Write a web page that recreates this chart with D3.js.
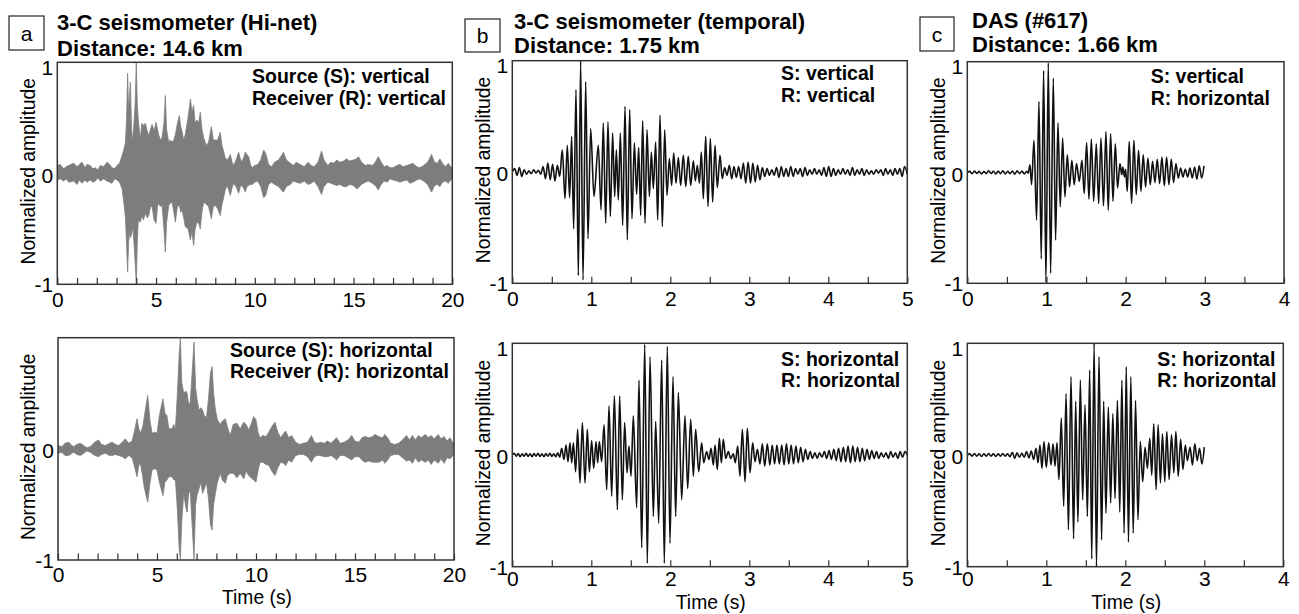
<!DOCTYPE html>
<html><head><meta charset="utf-8">
<script src="https://cdn.jsdelivr.net/npm/d3@7"></script>
<style>body{margin:0;background:#fff}svg{display:block}text{font-family:"Liberation Sans",Arial,Helvetica,sans-serif;fill:#000}</style>
</head><body><svg id="chart" width="1299" height="614"></svg>
<script>
// ---------------- DATA ----------------
const yTicks = [-1, 0, 1];
const hinetTicks = [0, 5, 10, 15, 20];
const hinetMinor = [0,1,2,3,4,5,6,7,8,9,10,11,12,13,14,15,16,17,18,19,20];
const tempTicks = [0, 1, 2, 3, 4, 5];
const tempMinor = [0,0.5,1,1.5,2,2.5,3,3.5,4,4.5,5];
const dasTicks = [0, 1, 2, 3, 4];
const dasMinor = [0,0.5,1,1.5,2,2.5,3,3.5,4];

// Hi-net envelopes: [time, upper, lower]
const hinetVertical = [
[0.00,0.07,-0.06],[0.15,0.08,-0.05],[0.32,0.04,-0.07],[0.45,0.06,-0.05],[0.58,0.07,-0.08],[0.83,0.09,-0.07],[1.00,0.06,-0.10],[1.12,0.08,-0.06],[1.25,0.10,-0.09],[1.40,0.05,-0.06],[1.50,0.08,-0.08],[1.67,0.07,-0.06],[1.80,0.04,-0.08],[1.93,0.05,-0.07],[2.05,0.03,-0.04],[2.18,0.07,-0.07],[2.35,0.06,-0.05],[2.52,0.10,-0.07],[2.65,0.08,-0.08],[2.77,0.05,-0.09],[2.90,0.04,-0.05],[3.02,0.07,-0.06],[3.15,0.09,-0.08],[3.28,0.16,-0.14],[3.38,0.22,-0.28],[3.45,0.28,-0.40],[3.51,0.50,-0.65],[3.56,0.90,-0.89],[3.61,0.55,-0.62],[3.66,0.72,-0.52],[3.70,0.82,-0.58],[3.76,0.40,-0.55],[3.82,0.28,-0.48],[3.88,0.45,-0.62],[3.94,0.62,-0.80],[4.00,1.00,-1.00],[4.05,0.62,-0.62],[4.10,0.48,-0.42],[4.20,0.31,-0.44],[4.28,0.45,-0.38],[4.36,0.43,-0.42],[4.46,0.45,-0.36],[4.55,0.38,-0.40],[4.63,0.34,-0.38],[4.72,0.40,-0.30],[4.80,0.44,-0.30],[4.90,0.38,-0.42],[5.00,0.46,-0.45],[5.07,0.40,-0.30],[5.13,0.35,-0.27],[5.22,0.30,-0.30],[5.30,0.32,-0.28],[5.40,0.45,-0.50],[5.47,0.70,-0.71],[5.53,0.40,-0.45],[5.64,0.28,-0.29],[5.72,0.30,-0.27],[5.81,0.28,-0.26],[5.90,0.30,-0.35],[5.98,0.35,-0.44],[6.08,0.45,-0.30],[6.18,0.52,-0.29],[6.25,0.42,-0.35],[6.31,0.38,-0.33],[6.40,0.30,-0.40],[6.48,0.35,-0.48],[6.62,0.50,-0.50],[6.74,0.67,-0.60],[6.82,0.55,-0.52],[6.90,0.61,-0.65],[6.98,0.45,-0.50],[7.07,0.48,-0.44],[7.16,0.45,-0.45],[7.24,0.55,-0.50],[7.32,0.40,-0.35],[7.41,0.32,-0.26],[7.55,0.25,-0.28],[7.66,0.28,-0.30],[7.80,0.42,-0.41],[7.90,0.30,-0.30],[8.00,0.30,-0.29],[8.12,0.30,-0.32],[8.25,0.37,-0.38],[8.34,0.25,-0.28],[8.42,0.20,-0.22],[8.50,0.14,-0.15],[8.59,0.12,-0.11],[8.68,0.14,-0.15],[8.76,0.17,-0.20],[8.85,0.10,-0.13],[8.93,0.07,-0.09],[9.05,0.12,-0.12],[9.18,0.19,-0.18],[9.27,0.13,-0.12],[9.35,0.10,-0.11],[9.45,0.15,-0.14],[9.52,0.19,-0.17],[9.60,0.17,-0.12],[9.69,0.15,-0.11],[9.78,0.08,-0.10],[9.86,0.05,-0.10],[10.00,0.07,-0.08],[10.15,0.08,-0.07],[10.30,0.12,-0.12],[10.45,0.21,-0.22],[10.55,0.18,-0.20],[10.70,0.08,-0.10],[10.85,0.06,-0.08],[11.00,0.10,-0.10],[11.20,0.12,-0.12],[11.35,0.16,-0.15],[11.45,0.19,-0.17],[11.60,0.12,-0.12],[11.80,0.09,-0.10],[11.95,0.07,-0.07],[12.10,0.10,-0.08],[12.30,0.08,-0.09],[12.50,0.06,-0.07],[12.70,0.10,-0.10],[12.85,0.07,-0.09],[13.00,0.06,-0.07],[13.20,0.10,-0.12],[13.38,0.20,-0.19],[13.50,0.12,-0.12],[13.70,0.07,-0.08],[13.85,0.10,-0.09],[14.00,0.09,-0.10],[14.15,0.12,-0.11],[14.30,0.10,-0.10],[14.50,0.11,-0.12],[14.65,0.13,-0.12],[14.80,0.11,-0.10],[15.00,0.12,-0.11],[15.15,0.13,-0.14],[15.25,0.15,-0.13],[15.40,0.10,-0.10],[15.60,0.07,-0.08],[15.75,0.08,-0.07],[15.95,0.07,-0.09],[16.10,0.10,-0.11],[16.25,0.15,-0.15],[16.40,0.10,-0.10],[16.55,0.06,-0.07],[16.70,0.07,-0.08],[16.85,0.05,-0.05],[17.00,0.05,-0.06],[17.20,0.07,-0.07],[17.35,0.08,-0.08],[17.50,0.06,-0.07],[17.70,0.07,-0.06],[17.85,0.08,-0.09],[18.00,0.09,-0.08],[18.20,0.06,-0.06],[18.35,0.05,-0.05],[18.55,0.07,-0.07],[18.75,0.10,-0.10],[18.95,0.17,-0.17],[19.10,0.10,-0.11],[19.25,0.09,-0.10],[19.37,0.13,-0.12],[19.50,0.09,-0.08],[19.65,0.06,-0.07],[19.80,0.09,-0.09],[19.92,0.06,-0.06],[20.00,0.05,-0.05]
];
const hinetHorizontal = [
[0.00,0.03,-0.04],[0.20,0.02,-0.03],[0.35,0.05,-0.06],[0.54,0.06,-0.06],[0.70,0.03,-0.04],[0.79,0.02,-0.03],[0.95,0.04,-0.05],[1.13,0.05,-0.06],[1.30,0.03,-0.04],[1.45,0.01,-0.02],[1.63,0.02,-0.03],[1.85,0.06,-0.06],[2.05,0.08,-0.07],[2.20,0.04,-0.05],[2.40,0.03,-0.04],[2.60,0.05,-0.06],[2.73,0.06,-0.06],[2.90,0.04,-0.05],[3.06,0.03,-0.06],[3.25,0.06,-0.07],[3.40,0.09,-0.09],[3.57,0.05,-0.06],[3.74,0.07,-0.08],[3.85,0.15,-0.15],[3.99,0.27,-0.25],[4.08,0.18,-0.15],[4.16,0.14,-0.13],[4.28,0.20,-0.25],[4.36,0.29,-0.35],[4.53,0.48,-0.48],[4.65,0.25,-0.30],[4.75,0.14,-0.19],[4.88,0.15,-0.18],[5.00,0.14,-0.19],[5.12,0.30,-0.30],[5.30,0.45,-0.42],[5.40,0.32,-0.30],[5.50,0.30,-0.28],[5.60,0.18,-0.25],[5.76,0.18,-0.25],[5.85,0.22,-0.28],[5.93,0.17,-0.28],[6.03,0.50,-0.55],[6.12,0.85,-0.90],[6.18,0.99,-0.99],[6.25,0.60,-0.65],[6.35,0.50,-0.40],[6.45,0.52,-0.52],[6.52,0.50,-0.57],[6.60,0.40,-0.40],[6.68,0.42,-0.38],[6.78,0.70,-0.70],[6.87,0.96,-0.99],[6.95,0.55,-0.50],[7.02,0.45,-0.42],[7.12,0.35,-0.36],[7.22,0.37,-0.30],[7.30,0.35,-0.40],[7.39,0.30,-0.36],[7.50,0.28,-0.30],[7.60,0.45,-0.45],[7.70,0.68,-0.68],[7.78,0.74,-0.73],[7.86,0.50,-0.50],[7.95,0.35,-0.40],[8.05,0.26,-0.30],[8.20,0.22,-0.22],[8.30,0.25,-0.28],[8.45,0.27,-0.31],[8.55,0.20,-0.24],[8.70,0.12,-0.22],[8.85,0.22,-0.22],[9.04,0.23,-0.26],[9.20,0.18,-0.22],[9.38,0.24,-0.27],[9.50,0.22,-0.20],[9.63,0.17,-0.24],[9.75,0.22,-0.26],[9.88,0.29,-0.28],[10.00,0.26,-0.30],[10.10,0.15,-0.20],[10.20,0.10,-0.12],[10.35,0.12,-0.12],[10.50,0.11,-0.14],[10.65,0.15,-0.15],[10.80,0.20,-0.20],[10.96,0.24,-0.24],[11.10,0.15,-0.17],[11.25,0.10,-0.12],[11.40,0.14,-0.13],[11.50,0.16,-0.15],[11.65,0.10,-0.10],[11.80,0.12,-0.12],[12.00,0.06,-0.06],[12.20,0.04,-0.05],[12.40,0.05,-0.05],[12.60,0.06,-0.07],[12.80,0.12,-0.12],[12.95,0.06,-0.07],[13.10,0.05,-0.06],[13.25,0.06,-0.06],[13.45,0.05,-0.07],[13.60,0.07,-0.07],[13.80,0.05,-0.06],[13.95,0.08,-0.08],[14.07,0.10,-0.10],[14.25,0.05,-0.06],[14.45,0.06,-0.06],[14.65,0.08,-0.08],[14.83,0.12,-0.10],[15.00,0.07,-0.07],[15.20,0.06,-0.07],[15.35,0.10,-0.10],[15.50,0.11,-0.12],[15.70,0.10,-0.11],[15.90,0.11,-0.12],[16.00,0.13,-0.12],[16.20,0.11,-0.12],[16.40,0.10,-0.10],[16.50,0.13,-0.13],[16.65,0.10,-0.10],[16.80,0.05,-0.06],[17.00,0.04,-0.05],[17.20,0.05,-0.05],[17.40,0.08,-0.08],[17.60,0.12,-0.11],[17.75,0.08,-0.10],[17.90,0.12,-0.13],[18.05,0.08,-0.08],[18.20,0.12,-0.12],[18.35,0.10,-0.10],[18.55,0.13,-0.12],[18.70,0.10,-0.10],[18.85,0.12,-0.14],[19.00,0.09,-0.10],[19.20,0.13,-0.13],[19.35,0.09,-0.09],[19.50,0.11,-0.13],[19.65,0.07,-0.08],[19.80,0.10,-0.09],[20.00,0.04,-0.05]
];

// Temporal seismometer: successive extrema [time, amplitude]
const tempVertical = [
[0,0],[0.03,0.03],[0.06,-0.03],[0.09,0.04],[0.12,-0.04],[0.15,0.02],[0.18,-0.02],[0.21,0.01],[0.24,-0.015],[0.27,0.02],[0.30,-0.01],[0.33,0.015],[0.36,-0.02],[0.39,0.05],[0.42,-0.06],[0.45,0.08],[0.48,-0.07],[0.51,0.07],[0.54,-0.08],[0.57,0.06],[0.60,-0.04],
[0.633,0.20],[0.667,-0.24],[0.696,0.24],[0.726,-0.23],[0.751,0.32],[0.777,-0.51],[0.806,0.74],[0.836,-0.93],[0.865,1.0],[0.895,-0.97],[0.929,0.81],[0.958,-0.60],[0.992,0.39],[1.034,-0.22],
[1.089,0.24],[1.123,-0.34],[1.152,0.44],[1.182,-0.46],[1.211,0.45],[1.241,-0.40],[1.270,0.35],[1.296,-0.22],[1.317,0.20],[1.342,-0.25],[1.368,0.35],[1.397,-0.48],[1.427,0.59],[1.456,-0.61],[1.486,0.56],[1.515,-0.42],[1.545,0.26],[1.574,-0.20],[1.600,0.22],[1.625,-0.39],[1.650,0.46],[1.680,-0.46],[1.705,0.38],[1.735,-0.22],[1.760,0.18],[1.785,-0.15],[1.815,0.27],[1.840,-0.43],[1.870,0.51],[1.899,-0.49],[1.929,0.38],[1.958,-0.21],[1.988,0.12],[2.017,-0.12],[2.043,0.17],[2.072,-0.10],[2.102,0.13],[2.131,-0.12],[2.165,0.15],[2.195,-0.13],[2.228,0.14],[2.258,-0.12],[2.292,0.10],[2.317,-0.08],[2.342,0.06],[2.368,-0.10],[2.393,0.18],[2.418,-0.24],[2.448,0.32],[2.477,-0.31],[2.507,0.30],[2.536,-0.27],[2.566,0.24],[2.595,-0.14],[2.629,0.15],[2.658,-0.06],[2.688,0.04],[2.718,-0.03],[2.747,0.06],[2.777,-0.06],[2.806,0.05],[2.836,-0.05],[2.865,0.05],
[2.895,-0.06],[2.925,0.08],[2.955,-0.10],[2.985,0.09],[3.015,-0.10],[3.045,0.08],[3.075,-0.09],[3.105,0.06],[3.135,-0.07],[3.165,0.04],[3.195,-0.04],[3.225,0.03],[3.255,-0.03],[3.285,0.02],[3.315,-0.03],[3.345,0.04],[3.375,-0.05],[3.405,0.05],[3.435,-0.04],[3.465,0.03],[3.495,-0.04],[3.525,0.05],[3.555,-0.04],[3.585,0.03],[3.615,-0.02],[3.645,0.03],[3.675,-0.04],[3.705,0.04],[3.735,-0.03],[3.765,0.02],[3.795,-0.02],[3.825,0.03],[3.855,-0.02],[3.885,0.02],[3.915,-0.03],[3.945,0.04],[3.975,-0.04],[4.005,0.05],[4.035,-0.04],[4.065,0.03],[4.095,-0.03],[4.125,0.02],[4.155,-0.02],[4.185,0.03],[4.215,-0.02],[4.245,0.02],[4.275,-0.03],[4.305,0.04],[4.335,-0.03],[4.365,0.02],[4.395,-0.02],[4.425,0.03],[4.455,-0.03],[4.485,0.02],[4.515,-0.02],[4.545,0.01],[4.575,-0.02],[4.605,0.02],[4.635,-0.01],[4.665,0.02],[4.695,-0.03],[4.725,0.03],[4.755,-0.02],[4.785,0.02],[4.815,-0.03],[4.845,0.03],[4.875,-0.02],[4.905,0.03],[4.935,-0.04],[4.965,0.05],[5.0,-0.02]
];
const tempHorizontal = [
[0,0],[0.025,0.015],[0.05,-0.01],[0.075,0.012],[0.1,-0.015],[0.125,0.01],[0.15,-0.01],[0.175,0.015],[0.2,-0.012],[0.225,0.01],[0.25,-0.015],[0.275,0.012],[0.3,-0.01],[0.325,0.015],[0.35,-0.012],[0.375,0.01],[0.4,-0.015],[0.425,0.012],[0.45,-0.01],[0.475,0.015],[0.5,-0.012],[0.525,0.01],[0.55,-0.015],[0.575,0.02],[0.6,-0.02],
[0.625,0.06],[0.654,-0.04],[0.680,0.09],[0.705,-0.06],[0.730,0.11],[0.752,-0.07],[0.773,0.11],[0.802,-0.15],[0.827,0.23],[0.857,-0.25],[0.887,0.29],[0.920,-0.25],[0.950,0.23],[0.975,-0.15],[1.005,0.13],[1.030,-0.12],[1.060,0.12],[1.081,-0.07],[1.102,0.12],[1.131,-0.06],[1.161,0.27],[1.195,-0.31],[1.224,0.44],[1.258,-0.37],[1.292,0.53],[1.330,-0.49],[1.359,0.53],[1.393,-0.40],[1.422,0.29],[1.452,-0.16],[1.477,0.08],[1.503,-0.19],[1.532,0.35],[1.574,-0.47],[1.604,0.67],[1.638,-0.83],[1.676,0.99],[1.709,-0.97],[1.743,0.88],[1.785,-0.55],[1.815,0.30],[1.853,-0.61],[1.891,0.85],[1.924,-0.97],[1.962,0.97],[1.996,-0.79],[2.034,0.70],[2.068,-0.55],[2.102,0.56],[2.144,-0.40],[2.186,0.35],[2.220,-0.30],[2.258,0.32],[2.292,-0.19],[2.321,0.23],[2.359,-0.15],[2.397,0.11],[2.423,-0.07],[2.460,0.03],[2.490,-0.04],[2.515,0.06],[2.545,-0.09],[2.566,0.09],[2.595,-0.13],[2.621,0.15],[2.646,-0.07],[2.671,0.14],[2.701,-0.03],[2.735,0.03],[2.764,-0.03],[2.798,0.01],[2.823,-0.07],[2.853,0.08],[2.882,-0.19],[2.912,0.23],[2.946,-0.24],[2.975,0.24],[3.009,-0.16],[3.043,0.11],[3.072,-0.06],[3.102,0.05],
[3.135,-0.08],[3.165,0.10],[3.195,-0.10],[3.228,0.10],[3.26,-0.09],[3.29,0.09],[3.32,-0.08],[3.35,0.09],[3.38,-0.08],[3.41,0.09],[3.44,-0.09],[3.47,0.10],[3.50,-0.08],[3.53,0.09],[3.56,-0.08],[3.59,0.08],[3.62,-0.07],[3.65,0.07],[3.68,-0.06],[3.71,0.05],[3.74,-0.04],[3.77,0.03],[3.80,-0.03],[3.83,0.02],[3.86,-0.03],[3.89,0.02],[3.92,-0.02],[3.95,0.03],[3.98,-0.03],[4.01,0.04],[4.04,-0.04],[4.07,0.05],[4.10,-0.05],[4.13,0.06],[4.16,-0.06],[4.19,0.07],[4.22,-0.06],[4.25,0.08],[4.28,-0.07],[4.31,0.08],[4.34,-0.06],[4.37,0.07],[4.40,-0.06],[4.43,0.06],[4.46,-0.05],[4.49,0.05],[4.52,-0.04],[4.55,0.04],[4.58,-0.03],[4.61,0.03],[4.64,-0.03],[4.67,0.02],[4.70,-0.02],[4.73,0.02],[4.76,-0.03],[4.79,0.03],[4.82,-0.02],[4.85,0.02],[4.88,-0.03],[4.91,0.03],[4.94,-0.02],[4.97,0.03],[5.0,0.0]
];

// DAS channel #617: successive extrema [time, amplitude]
const dasVertical = [
[0,0],[0.03,0.01],[0.06,-0.01],[0.09,0.012],[0.12,-0.008],[0.15,0.01],[0.18,-0.012],[0.21,0.008],[0.24,-0.01],[0.27,0.015],[0.30,-0.01],[0.33,0.01],[0.36,-0.012],[0.39,0.012],[0.42,-0.01],[0.45,0.015],[0.48,-0.012],[0.51,0.01],[0.54,-0.01],[0.57,0.012],[0.60,-0.015],[0.63,0.015],[0.66,-0.01],[0.69,0.012],[0.72,-0.012],[0.75,0.01],[0.77,-0.005],
[0.791,0.07],[0.812,-0.11],[0.842,0.29],[0.875,-0.43],[0.905,0.64],[0.934,-0.78],[0.964,0.92],[0.993,-0.99],[1.023,0.99],[1.052,-0.91],[1.086,0.85],[1.115,-0.61],[1.145,0.45],[1.174,-0.31],[1.204,0.31],[1.233,-0.22],[1.263,0.16],[1.292,-0.13],[1.32,0.11],[1.35,-0.11],[1.38,0.08],[1.414,-0.08],[1.448,0.11],[1.477,-0.19],[1.507,0.27],[1.536,-0.24],[1.567,0.30],[1.596,-0.26],[1.629,0.26],[1.659,-0.28],[1.688,0.31],[1.72,-0.30],[1.751,0.37],[1.78,-0.34],[1.81,0.35],[1.84,-0.26],[1.869,0.26],[1.898,-0.14],[1.928,0.08],[1.95,-0.02],[1.965,0.05],[1.985,-0.04],[2.0,0.03],[2.02,-0.17],[2.045,0.28],[2.075,-0.28],[2.104,0.29],[2.134,-0.2],[2.163,0.2],[2.193,-0.17],[2.222,0.16],[2.252,-0.13],[2.281,0.13],[2.311,-0.11],[2.34,0.10],[2.37,-0.09],[2.399,0.12],[2.429,-0.10],[2.458,0.14],[2.488,-0.12],[2.517,0.14],[2.547,-0.11],[2.576,0.12],[2.606,-0.09],[2.635,0.08],[2.665,-0.05],[2.694,0.04],[2.724,-0.04],[2.753,0.03],[2.783,-0.04],[2.812,0.04],[2.842,-0.05],[2.871,0.05],[2.90,-0.06],[2.93,0.06],[2.96,-0.05],[2.99,0.06]
];
const dasHorizontal = [
[0,0],[0.03,0.01],[0.06,-0.01],[0.09,0.012],[0.12,-0.01],[0.15,0.01],[0.18,-0.012],[0.21,0.01],[0.24,-0.01],[0.27,0.012],[0.30,-0.01],[0.33,0.01],[0.36,-0.012],[0.39,0.01],[0.42,-0.01],[0.45,0.012],[0.48,-0.01],[0.51,0.01],[0.54,-0.015],[0.57,0.025],[0.60,-0.03],[0.63,0.02],[0.66,-0.02],[0.69,0.015],[0.72,-0.02],[0.75,0.03],[0.78,-0.025],[0.81,0.035],[0.84,-0.04],
[0.87,0.06],[0.895,-0.07],[0.92,0.09],[0.945,-0.12],[0.97,0.12],[1.0,-0.11],[1.03,0.11],[1.06,-0.09],[1.085,0.10],[1.11,-0.10],[1.135,0.11],[1.16,-0.22],[1.19,0.33],[1.22,-0.46],[1.25,0.55],[1.28,-0.67],[1.313,0.70],[1.345,-0.75],[1.372,0.48],[1.40,-0.60],[1.431,0.67],[1.46,-0.40],[1.49,0.45],[1.52,-0.55],[1.549,0.76],[1.575,-0.93],[1.605,1.0],[1.635,-1.0],[1.667,0.88],[1.70,-0.76],[1.726,0.48],[1.755,-0.52],[1.785,0.43],[1.815,-0.43],[1.842,0.37],[1.87,-0.39],[1.90,0.49],[1.93,-0.51],[1.957,0.67],[1.985,-0.70],[2.012,0.79],[2.04,-0.78],[2.07,0.70],[2.10,-0.70],[2.13,0.49],[2.16,-0.58],[2.19,0.12],[2.22,-0.24],
[2.25,0.07],[2.28,-0.12],[2.31,0.15],[2.335,-0.18],[2.36,0.28],[2.39,-0.31],[2.415,0.27],[2.445,-0.25],[2.47,0.19],[2.50,-0.24],[2.525,0.21],[2.555,-0.22],[2.585,0.18],[2.615,-0.16],[2.64,0.21],[2.67,-0.19],[2.70,0.14],[2.73,-0.13],[2.76,0.09],[2.785,-0.05],[2.82,0.07],[2.85,-0.09],[2.88,0.10],[2.91,-0.05],[2.94,0.06],[2.97,-0.08],[3.0,0.07]
];

const titles = {
  a: ["3-C seismometer (Hi-net)", "Distance: 14.6 km"],
  b: ["3-C seismometer (temporal)", "Distance: 1.75 km"],
  c: ["DAS (#617)", "Distance: 1.66 km"]
};
const notes = {
  aTop: ["Source (S): vertical", "Receiver (R): vertical"],
  aBot: ["Source (S): horizontal", "Receiver (R): horizontal"],
  bTop: ["S: vertical", "R: vertical"],
  bBot: ["S: horizontal", "R: horizontal"],
  cTop: ["S: vertical", "R: horizontal"],
  cBot: ["S: horizontal", "R: horizontal"]
};

// ---------------- LAYOUT ----------------
const panels = [
  {id:"aTop", kind:"env", data:hinetVertical, xMax:20, ticks:hinetTicks, minor:hinetMinor, left:57.3, right:452.3, top:62.3, bottom:284.3, yLab:28, noteX:252, noteY:[82.7,105], showTop:true, xLabel:false, pad:8},
  {id:"aBot", kind:"env", data:hinetHorizontal, xMax:20, ticks:hinetTicks, minor:hinetMinor, left:58, right:454, top:337.7, bottom:560, yLab:28, noteX:230, noteY:[356.7,378.3], showTop:false, xLabel:true, xLabelY:604, pad:7.5},
  {id:"bTop", kind:"line", data:tempVertical, xMax:5, ticks:tempTicks, minor:tempMinor, left:512.3, right:907.3, top:60.7, bottom:283.3, yLab:483.3, noteX:781, noteY:[80,101.7], showTop:true, xLabel:false, pad:8},
  {id:"bBot", kind:"line", data:tempHorizontal, xMax:5, ticks:tempTicks, minor:tempMinor, left:512.3, right:907.3, top:343.3, bottom:566.7, yLab:483.3, noteX:781, noteY:[366,387.3], showTop:true, xLabel:true, xLabelY:608.5, pad:4.5},
  {id:"cTop", kind:"line", data:dasVertical, xMax:4, ticks:dasTicks, minor:dasMinor, left:967.3, right:1284, top:61.7, bottom:283.3, yLab:938.3, noteX:1150.7, noteY:[83.3,105], showTop:true, xLabel:false, pad:8},
  {id:"cBot", kind:"line", data:dasHorizontal, xMax:4, ticks:dasTicks, minor:dasMinor, left:967.3, right:1283.3, top:343.3, bottom:566.7, yLab:938.3, noteX:1157.3, noteY:[366,387.3], showTop:true, xLabel:true, xLabelY:608.5, pad:4.5}
];
const headers = [
  {key:"a", box:[9,16,35,34], tx:57, ty:[30,56]},
  {key:"b", box:[465,19,35,33], tx:514, ty:[28.5,52.5]},
  {key:"c", box:[920,17,34,34], tx:972, ty:[28,51.5]}
];

const fmt = d => String(d);   // plain hyphen-minus as in the figure
const svg = d3.select("#chart");
const defs = svg.append("defs");

panels.forEach(p => {
  const x = d3.scaleLinear().domain([0, p.xMax]).range([p.left, p.right]);
  const y = d3.scaleLinear().domain([-1, 1]).range([p.bottom, p.top]);
  const g = svg.append("g");
  defs.append("clipPath").attr("id", "clip-" + p.id).append("rect")
    .attr("x", p.left).attr("y", p.top - 0.5).attr("width", p.right - p.left).attr("height", p.bottom - p.top + 1);
  const plot = g.append("g").attr("clip-path", `url(#clip-${p.id})`);
  if (p.kind === "env") {
    plot.append("path").datum(p.data)
      .attr("d", d3.area().x(d => x(d[0])).y0(d => y(d[2])).y1(d => y(d[1])))
      .attr("fill", "#7d7d7d").attr("stroke", "#7d7d7d").attr("stroke-width", 0.8);
  } else {
    plot.append("path").datum(p.data)
      .attr("d", d3.line().x(d => x(d[0])).y(d => y(d[1])).curve(d3.curveMonotoneX))
      .attr("fill", "none").attr("stroke", "#111").attr("stroke-width", 1.6).attr("stroke-linejoin", "round");
  }
  // inward minor ticks
  const tickAxis = g.append("g").attr("transform", `translate(0,${p.bottom})`)
    .call(d3.axisBottom(x).tickValues(p.minor).tickSize(-6.5).tickFormat(""));
  tickAxis.select(".domain").remove();
  tickAxis.selectAll("line").attr("stroke", "#333").attr("stroke-width", 1.2);
  // x labels
  const lab = g.append("g").attr("transform", `translate(0,${p.bottom})`)
    .call(d3.axisBottom(x).tickValues(p.ticks).tickSize(0).tickPadding(p.pad).tickFormat(fmt));
  lab.select(".domain").remove();
  lab.selectAll("text").attr("font-size", 21).attr("font-family", '"Liberation Sans", Arial, sans-serif').attr("fill", "#000");
  // y labels
  const yVals = p.showTop ? yTicks : yTicks.filter(v => v !== 1);
  const yl = g.append("g").attr("transform", `translate(${p.left},0)`)
    .call(d3.axisLeft(y).tickValues(yVals).tickSize(0).tickPadding(4).tickFormat(fmt));
  yl.select(".domain").remove();
  yl.selectAll("text").attr("font-size", 21).attr("font-family", '"Liberation Sans", Arial, sans-serif').attr("fill", "#000")
    .attr("dy", d => d === 1 ? "0.58em" : d === 0 ? "0.42em" : "0.36em");
  // frame
  g.append("rect").attr("x", p.left).attr("y", p.top).attr("width", p.right - p.left).attr("height", p.bottom - p.top)
    .attr("fill", "none").attr("stroke", "#333").attr("stroke-width", 1.5);
  // y-axis title
  g.append("text").attr("transform", `translate(${p.yLab},${(p.top + p.bottom) / 2 - 2}) rotate(-90)`)
    .attr("text-anchor", "middle").attr("dy", "0.35em").attr("font-size", 19.3).text("Normalized amplitude");
  // x-axis title
  if (p.xLabel) {
    g.append("text").attr("x", (p.left + p.right) / 2 + 1).attr("y", p.xLabelY)
      .attr("text-anchor", "middle").attr("font-size", 19.3).text("Time (s)");
  }
  // annotation
  notes[p.id].forEach((t, i) => {
    g.append("text").attr("x", p.noteX).attr("y", p.noteY[i]).attr("font-size", 19.5).attr("font-weight", "bold").text(t);
  });
});

headers.forEach(h => {
  svg.append("rect").attr("x", h.box[0]).attr("y", h.box[1]).attr("width", h.box[2]).attr("height", h.box[3])
    .attr("fill", "#fff").attr("stroke", "#222").attr("stroke-width", 1.2);
  svg.append("text").attr("x", h.box[0] + h.box[2] / 2).attr("y", h.box[1] + h.box[3] / 2)
    .attr("text-anchor", "middle").attr("dy", "0.36em").attr("font-size", 21).text(h.key);
  titles[h.key].forEach((t, i) => {
    svg.append("text").attr("x", h.tx).attr("y", h.ty[i]).attr("font-size", 22).attr("font-weight", "bold").text(t);
  });
});
</script></body></html>
